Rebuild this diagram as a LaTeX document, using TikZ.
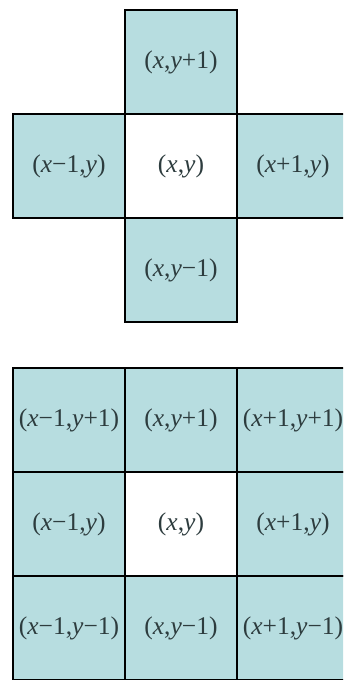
\documentclass[tikz,border=0pt]{standalone}
\usepackage{fontspec}
\setmainfont{Liberation Serif}
\usepackage{tikz}
\usetikzlibrary{positioning}
\definecolor{cellfill}{RGB}{183,221,224}
\definecolor{celltext}{RGB}{45,60,62}
\newcommand{\vx}{\textit{x}}
\newcommand{\vy}{\textit{y}}
\tikzset{
  cell/.style={draw=black, line width=2.4pt, fill=cellfill, minimum width=112pt,
               minimum height=104pt, inner sep=0pt, outer sep=0pt, text=celltext,
               font=\fontsize{25.5}{30}\selectfont},
  centercell/.style={cell, fill=white}
}

\begin{document}
\begin{tikzpicture}[x=1pt, y=1pt, node distance=0pt]
        \clip (0,0) rectangle (343,680);
        % four-neighbourhood
        \node[centercell] (c) at (181,514) {(\vx,\vy)};
        \node[cell, above=of c] (n) {(\vx,\vy+1)};
        \node[cell, below=of c] (s) {(\vx,\vy−1)};
        \node[cell, left=of c] (w) {(\vx−1,\vy)};
        \node[cell, right=of c] (e) {(\vx+1,\vy)};
        % eight-neighbourhood
        \node[centercell] (gc) at (181,156) {(\vx,\vy)};
        \node[cell, above=of gc] (gn) {(\vx,\vy+1)};
        \node[cell, below=of gc] (gs) {(\vx,\vy−1)};
        \node[cell, left=of gc] (gw) {(\vx−1,\vy)};
        \node[cell, right=of gc] (ge) {(\vx+1,\vy)};
        \node[cell, left=of gn] (gnw) {(\vx−1,\vy+1)};
        \node[cell, right=of gn] (gne) {(\vx+1,\vy+1)};
        \node[cell, left=of gs] (gsw) {(\vx−1,\vy−1)};
        \node[cell, right=of gs] (gse) {(\vx+1,\vy−1)};
      \end{tikzpicture}
\end{document}
